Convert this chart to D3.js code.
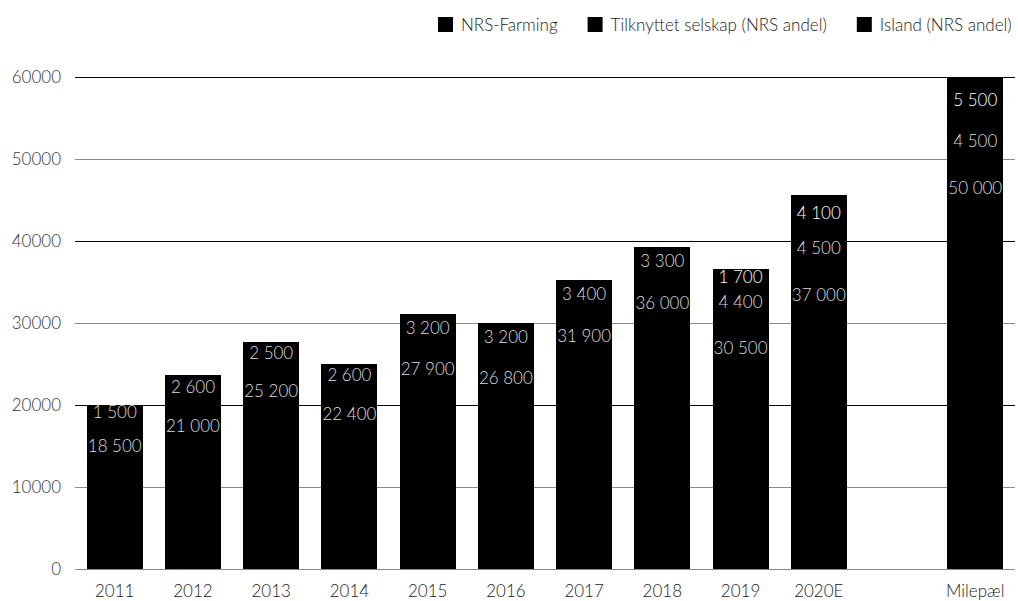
<!DOCTYPE html>
<html><head><meta charset="utf-8">
<script src="https://cdn.jsdelivr.net/npm/d3@7"></script>
<style>body{margin:0;background:#fff}svg{display:block;font-family:Lato,"Open Sans",sans-serif;font-weight:300}</style>
</head><body><svg id="c" width="1018" height="601"></svg>
<script>
const categories = ["2011","2012","2013","2014","2015","2016","2017","2018","2019","2020E","","Milepæl"];
const seriesNames = ["NRS-Farming","Tilknyttet selskap (NRS andel)","Island (NRS andel)"];
const nrsFarming = [18500,21000,25200,22400,27900,26800,31900,36000,30500,37000,0,50000];
const tilknyttet = [1500,2600,2500,2600,3200,3200,3400,3300,4400,4500,0,4500];
const island = [0,0,0,0,0,0,0,0,1700,4100,0,5500];
const yTicks = [0,10000,20000,30000,40000,50000,60000];

const svg = d3.select("#c");
const x = d3.scaleBand().domain(categories.map((c,i)=>i)).range([75,1015]).paddingInner(0.284).paddingOuter(0.15);
const y = d3.scaleLinear().domain([0,60000]).range([569,77]);
const fmt = v => d3.format(",")(v).replace(/,/g," ");

svg.append("g").selectAll("line").data(yTicks).join("line")
  .attr("x1",75).attr("x2",1015).attr("y1",d=>Math.round(y(d))+0.5).attr("y2",d=>Math.round(y(d))+0.5)
  .attr("stroke",d=>(d%20000===0 && d>0)?"#000":"#8a8a8a").attr("stroke-width",1);

svg.append("g").selectAll("text").data(yTicks).join("text")
  .attr("x",61).attr("y",d=>y(d)).attr("dy","0.35em").attr("text-anchor","end")
  .attr("font-size",17).attr("fill","#333").text(d=>d);

const series = [nrsFarming,tilknyttet,island];
const rows = categories.map((c,i)=>({i, v:series.map(s=>s[i])}));
const g = svg.append("g").attr("shape-rendering","crispEdges");
const tg = svg.append("g");
rows.forEach(r=>{
  let base=0;
  r.v.forEach((v,k)=>{
    if(!v){return;}
    const y0=Math.round(y(base)), y1=Math.round(y(base+v));
    g.append("rect").attr("x",Math.round(x(r.i))).attr("width",Math.round(x.bandwidth()))
      .attr("y",y1).attr("height",y0-y1+ (k>0?1:0)).attr("fill","#000");
    const ly = k===0 ? y1+29 : (y0+y1)/2+1;
    tg.append("text").attr("x",x(r.i)+x.bandwidth()/2).attr("y",ly).attr("dy","0.35em")
      .attr("text-anchor","middle").attr("font-size",17)
      .attr("fill",k===2?"#fff":"#dcdcdc").text(fmt(v));
    base+=v;
  });
});

svg.append("g").selectAll("text").data(categories).join("text")
  .attr("x",(d,i)=>x(i)+x.bandwidth()/2).attr("y",591).attr("dy","0.35em")
  .attr("text-anchor","middle").attr("font-size",17).attr("fill","#222").text(d=>d);

// legend laid out sequentially
const leg = svg.append("g");
let lx = 438;
seriesNames.forEach(n=>{
  leg.append("rect").attr("x",lx).attr("y",17).attr("width",15).attr("height",15).attr("fill","#000");
  const t = leg.append("text").attr("x",lx+23).attr("y",25).attr("dy","0.35em").attr("font-size",17).attr("fill","#222").text(n);
  lx += 23 + t.node().getComputedTextLength() + 30;
});
</script></body></html>
